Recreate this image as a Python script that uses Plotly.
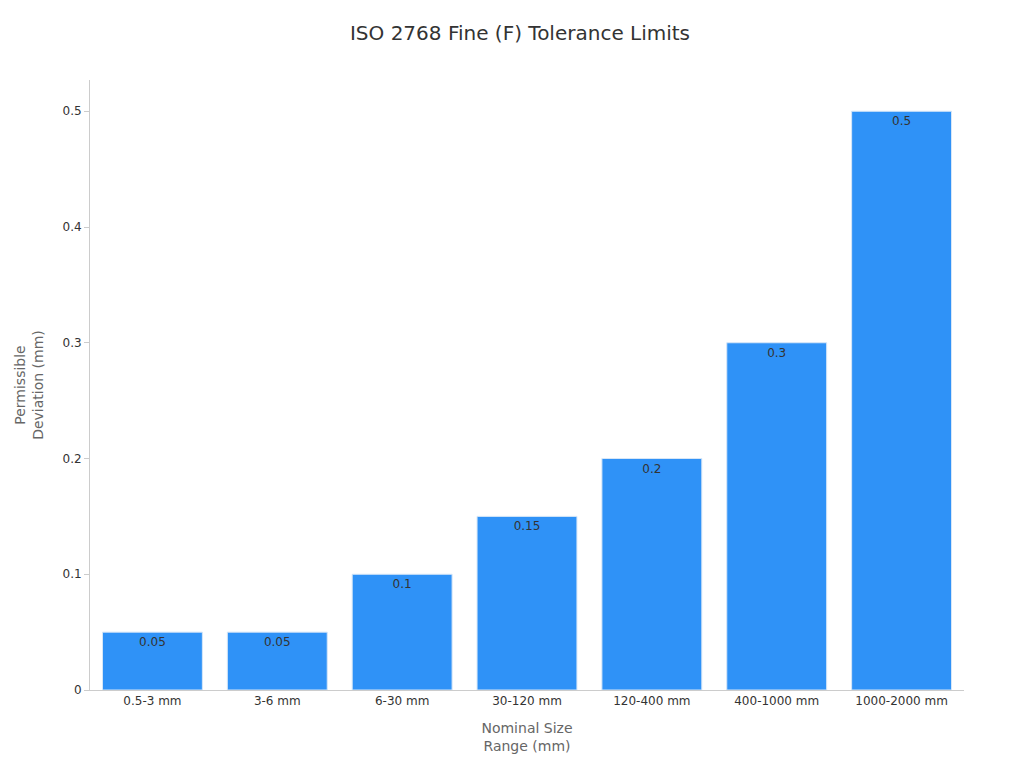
import plotly.graph_objects as go

categories = ["0.5-3 mm", "3-6 mm", "6-30 mm", "30-120 mm", "120-400 mm", "400-1000 mm", "1000-2000 mm"]
values = [0.05, 0.05, 0.1, 0.15, 0.2, 0.3, 0.5]

fig = go.Figure(go.Bar(
    x=categories, y=values, text=[str(v) for v in values],
    textposition="inside", insidetextanchor="end",
    textfont=dict(color="#333333", size=12),
    marker=dict(color="#2f92f7", line=dict(color="#d6e6f7", width=1)),
    width=0.8,
))
fig.update_layout(
    width=1024, height=768,
    paper_bgcolor="white", plot_bgcolor="white",
    font=dict(family="DejaVu Sans", size=12, color="#333333"),
    title=dict(text="ISO 2768 Fine (F) Tolerance Limits", x=0.5, y=0.977, xanchor="center",
               font=dict(size=20, color="#333333")),
    margin=dict(l=76, r=68, t=72, b=86),
    showlegend=False,
    xaxis=dict(title=dict(text="Nominal Size<br>Range (mm)", font=dict(color="#666666", size=14)),
               showline=True, linecolor="#cccccc", ticks="", showgrid=False),
    yaxis=dict(title=dict(text="Permissible<br>Deviation (mm)", font=dict(color="#666666", size=14)),
               range=[0, 0.527], showline=True, linecolor="#cccccc", ticks="outside",
               tickcolor="#cccccc", ticklen=5, showgrid=False, zeroline=False,
               tickvals=[0, 0.1, 0.2, 0.3, 0.4, 0.5], ticktext=["0", "0.1", "0.2", "0.3", "0.4", "0.5"]),
)
fig.write_html("out.html")
